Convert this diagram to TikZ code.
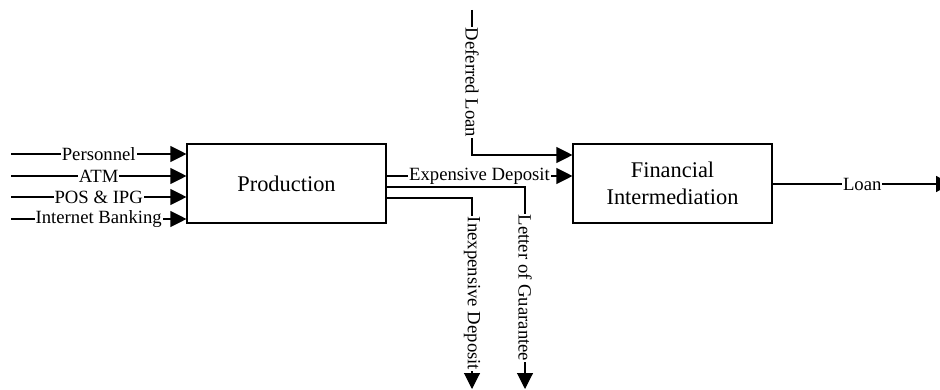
\documentclass[tikz,border=0pt]{standalone}
\usepackage{fontspec}
\setmainfont{Liberation Serif}
\usetikzlibrary{arrows.meta}
\tikzset{
  flow/.style={line width=1.1pt, draw=black, -{Triangle[length=16pt,width=16pt]}},
  plain/.style={line width=1.1pt, draw=black},
  lbl/.style={fill=white, inner sep=1pt, font=\fontsize{18.7}{21}\selectfont},
  vlbl/.style={lbl, rotate=-90},
  proc/.style={draw=black, line width=1.1pt, minimum width=199pt, minimum height=79pt, align=center, font=\fontsize{22.4}{27}\selectfont, inner sep=0pt}
}
\begin{document}
\begin{tikzpicture}[x=1pt,y=-1pt]
\useasboundingbox (0,0) rectangle (940,390);
\clip (0,0) rectangle (940,390);
\node[proc] (prod) at (286.5,183.5) {Production};
\node[proc] (fin) at (672.5,183.5) {Financial\\Intermediation};
% inputs
\coordinate (i1) at (11,154);
\coordinate (i2) at (11,176);
\coordinate (i3) at (11,197);
\coordinate (i4) at (11,219);
\draw[flow] (i1) -- node[lbl] {Personnel} (i1 -| prod.west);
\draw[flow] (i2) -- node[lbl] {ATM} (i2 -| prod.west);
\draw[flow] (i3) -- node[lbl] {POS \& IPG} (i3 -| prod.west);
\draw[flow] (i4) -- node[lbl] {Internet Banking} (i4 -| prod.west);
% deferred loan
\coordinate (dl) at (472,10);
\coordinate (dly) at (0,155);
\draw[flow] (dl) |- node[pos=0.25,vlbl] {Deferred Loan} (fin.west |- dly);
% expensive deposit
\coordinate (edy) at (0,176);
\draw[flow] (prod.east |- edy) -- node[lbl] {Expensive Deposit} (fin.west |- edy);
% letter of guarantee
\coordinate (lgy) at (0,187);
\coordinate (lg) at (525,389);
\draw[flow] (prod.east |- lgy) -| node[pos=0.75,vlbl] {Letter of Guarantee} (lg);
% inexpensive deposit
\coordinate (idy) at (0,198);
\coordinate (id) at (472,389);
\draw[flow] (prod.east |- idy) -| node[pos=0.75,vlbl] {Inexpensive Deposit} (id);
% loan
\coordinate (ln) at (952,184);
\draw[flow] (fin.east |- ln) -- node[lbl] {Loan} (ln);
\end{tikzpicture}
\end{document}
